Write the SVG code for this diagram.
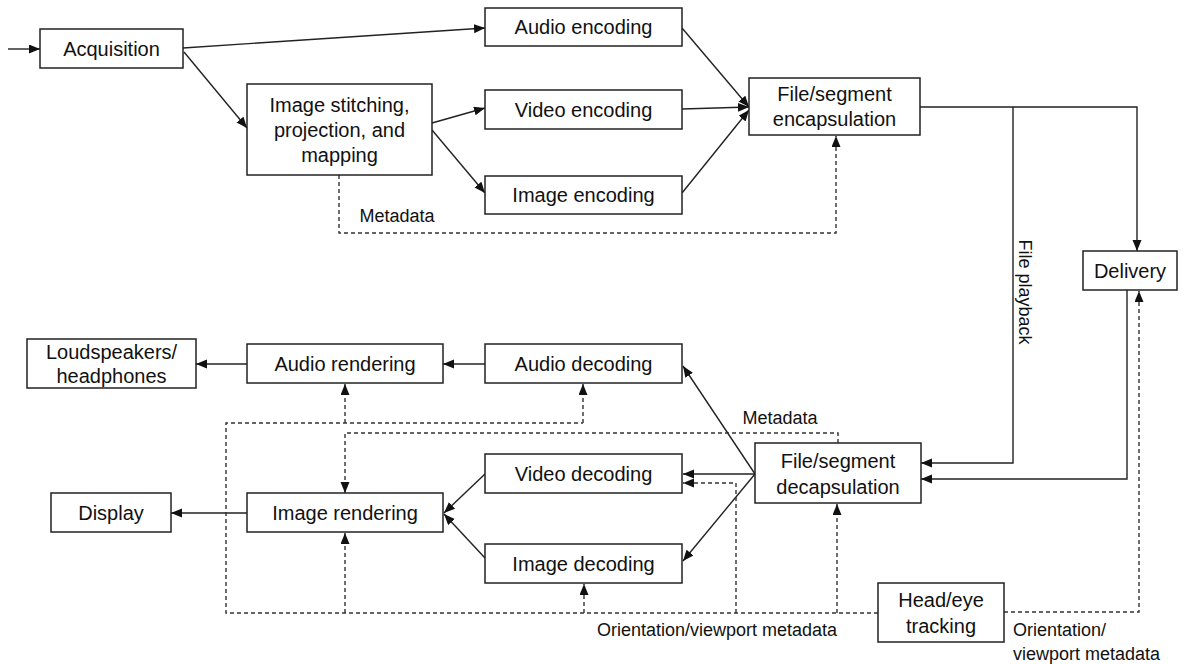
<svg xmlns="http://www.w3.org/2000/svg" width="1185" height="664" viewBox="0 0 1185 664">
  <defs>
    <style>
      .box { fill: #ffffff; stroke: #222222; stroke-width: 1.5; }
      .lbl { font-family: "Liberation Sans", Arial, sans-serif; font-size: 20px; fill: #111111; text-anchor: middle; }
      .note { font-family: "Liberation Sans", Arial, sans-serif; font-size: 18px; fill: #111111; }
      .flow { fill: none; stroke: #222222; stroke-width: 1.4; }
      .dash { fill: none; stroke: #333333; stroke-width: 1.4; stroke-dasharray: 4 3; }
    </style>
    <marker id="arrow" markerUnits="userSpaceOnUse" markerWidth="12" markerHeight="10" refX="11" refY="4.5" orient="auto">
      <path d="M0,0 L11,4.5 L0,9 z" fill="#111111"/>
    </marker>
  </defs>

  <!-- connectors -->
  <g id="connectors">
    <!-- capture side -->
    <path class="flow" d="M8,49 L40,49" marker-end="url(#arrow)"/>
    <path class="flow" d="M183,48 L485,28" marker-end="url(#arrow)"/>
    <path class="flow" d="M184,52 L247,128" marker-end="url(#arrow)"/>
    <path class="flow" d="M432,123 L485,108" marker-end="url(#arrow)"/>
    <path class="flow" d="M432,130 L485,193" marker-end="url(#arrow)"/>
    <path class="flow" d="M682,28 L749,107" marker-end="url(#arrow)"/>
    <path class="flow" d="M682,109 L749,107" marker-end="url(#arrow)"/>
    <path class="flow" d="M682,193 L749,110" marker-end="url(#arrow)"/>
    <path class="dash" d="M339,175 L339,233 L836,233 L836,136" marker-end="url(#arrow)"/>

    <!-- delivery and file playback -->
    <path class="flow" d="M920,107 L1137,107 L1137,251" marker-end="url(#arrow)"/>
    <path class="flow" d="M1013,107 L1013,463 L921,463" marker-end="url(#arrow)"/>
    <path class="flow" d="M1127,290 L1127,479 L921,479" marker-end="url(#arrow)"/>
    <path class="dash" d="M1004,612 L1139,612 L1139,291" marker-end="url(#arrow)"/>

    <!-- playback side -->
    <path class="flow" d="M755,474 L683,366" marker-end="url(#arrow)"/>
    <path class="flow" d="M755,474 L683,474" marker-end="url(#arrow)"/>
    <path class="flow" d="M755,474 L683,561" marker-end="url(#arrow)"/>
    <path class="flow" d="M485,364 L443,364" marker-end="url(#arrow)"/>
    <path class="flow" d="M247,364 L196,364" marker-end="url(#arrow)"/>
    <path class="flow" d="M485,474 L444,513" marker-end="url(#arrow)"/>
    <path class="flow" d="M485,558 L444,514" marker-end="url(#arrow)"/>
    <path class="flow" d="M247,513 L171,513" marker-end="url(#arrow)"/>

    <!-- metadata from decapsulation -->
    <path class="dash" d="M838,443 L838,433 L345,433 L345,493" marker-end="url(#arrow)"/>

    <!-- orientation / viewport metadata loop -->
    <path class="dash" d="M878,613 L226,613 L226,423 L583,423"/>
    <path class="dash" d="M583,423 L583,384" marker-end="url(#arrow)"/>
    <path class="dash" d="M345,423 L345,384" marker-end="url(#arrow)"/>
    <path class="dash" d="M345,613 L345,533" marker-end="url(#arrow)"/>
    <path class="dash" d="M584,613 L584,584" marker-end="url(#arrow)"/>
    <path class="dash" d="M837,613 L837,504" marker-end="url(#arrow)"/>
    <path class="dash" d="M736,613 L736,483 L683,483" marker-end="url(#arrow)"/>

    <!-- connector labels -->
    <text class="note" x="397" y="222" text-anchor="middle">Metadata</text>
    <text class="note" x="780" y="424" text-anchor="middle">Metadata</text>
    <text class="note" x="1019" y="292" text-anchor="middle" transform="rotate(90 1019 292)">File playback</text>
    <text class="note" x="597" y="636">Orientation/viewport metadata</text>
    <text class="note" x="1013" y="636">Orientation/</text>
    <text class="note" x="1013" y="660">viewport metadata</text>
  </g>

  <!-- nodes -->
  <g id="acquisition">
    <rect class="box" x="40" y="29" width="143" height="39"/>
    <text class="lbl" x="111.5" y="55.5">Acquisition</text>
  </g>
  <g id="stitching">
    <rect class="box" x="247" y="84" width="185" height="91"/>
    <text class="lbl" x="339.5" y="112">Image stitching,</text>
    <text class="lbl" x="339.5" y="137">projection, and</text>
    <text class="lbl" x="339.5" y="162">mapping</text>
  </g>
  <g id="audio-encoding">
    <rect class="box" x="485" y="8" width="197" height="38"/>
    <text class="lbl" x="583.5" y="34">Audio encoding</text>
  </g>
  <g id="video-encoding">
    <rect class="box" x="485" y="90" width="197" height="39"/>
    <text class="lbl" x="583.5" y="116.5">Video  encoding</text>
  </g>
  <g id="image-encoding">
    <rect class="box" x="485" y="176" width="197" height="38"/>
    <text class="lbl" x="583.5" y="202">Image  encoding</text>
  </g>
  <g id="encapsulation">
    <rect class="box" x="749" y="78" width="171" height="57"/>
    <text class="lbl" x="834.5" y="101">File/segment</text>
    <text class="lbl" x="834.5" y="126">encapsulation</text>
  </g>
  <g id="delivery">
    <rect class="box" x="1083" y="251" width="94" height="39"/>
    <text class="lbl" x="1130" y="277.5">Delivery</text>
  </g>
  <g id="loudspeakers">
    <rect class="box" x="27" y="339" width="169" height="49"/>
    <text class="lbl" x="111.5" y="359">Loudspeakers/</text>
    <text class="lbl" x="111.5" y="383">headphones</text>
  </g>
  <g id="audio-rendering">
    <rect class="box" x="247" y="344" width="196" height="39"/>
    <text class="lbl" x="345" y="370.5">Audio rendering</text>
  </g>
  <g id="audio-decoding">
    <rect class="box" x="485" y="344" width="197" height="39"/>
    <text class="lbl" x="583.5" y="370.5">Audio decoding</text>
  </g>
  <g id="display">
    <rect class="box" x="51" y="493" width="120" height="39"/>
    <text class="lbl" x="111" y="519.5">Display</text>
  </g>
  <g id="image-rendering">
    <rect class="box" x="247" y="493" width="196" height="39"/>
    <text class="lbl" x="345" y="519.5">Image  rendering</text>
  </g>
  <g id="video-decoding">
    <rect class="box" x="485" y="454" width="197" height="39"/>
    <text class="lbl" x="583.5" y="480.5">Video decoding</text>
  </g>
  <g id="image-decoding">
    <rect class="box" x="485" y="544" width="197" height="39"/>
    <text class="lbl" x="583.5" y="570.5">Image  decoding</text>
  </g>
  <g id="decapsulation">
    <rect class="box" x="755" y="443" width="166" height="60"/>
    <text class="lbl" x="838" y="468">File/segment</text>
    <text class="lbl" x="838" y="494">decapsulation</text>
  </g>
  <g id="head-eye-tracking">
    <rect class="box" x="878" y="583" width="126" height="59"/>
    <text class="lbl" x="941" y="607">Head/eye</text>
    <text class="lbl" x="941" y="633">tracking</text>
  </g>
</svg>
